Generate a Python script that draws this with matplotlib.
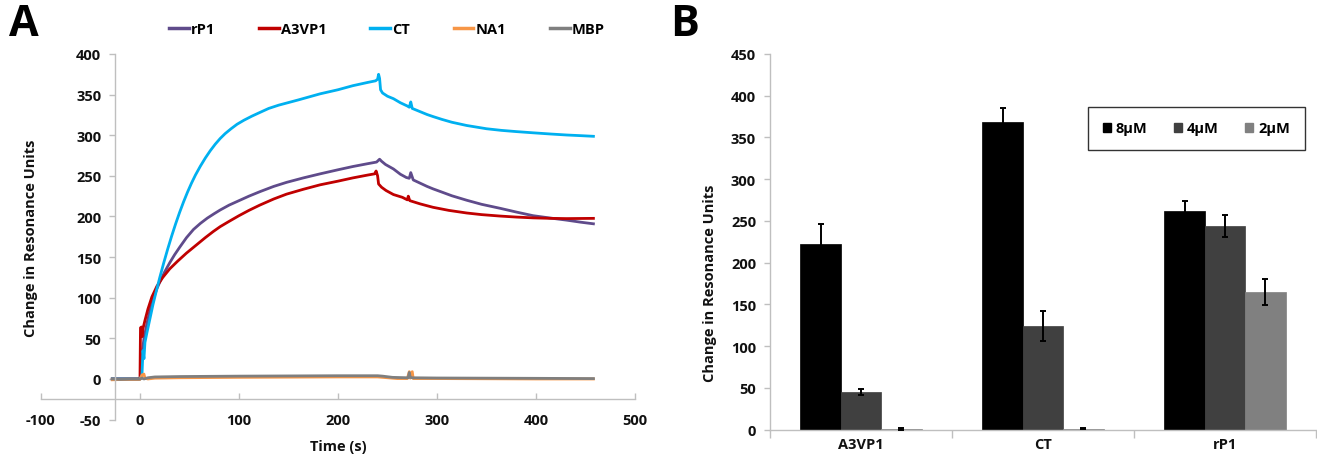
import matplotlib
matplotlib.use("Agg")
import matplotlib.pyplot as plt
from matplotlib.lines import Line2D
from matplotlib.patches import Patch
import numpy as np

plt.rcParams["font.family"] = ["Open Sans", "DejaVu Sans"]
plt.rcParams["font.weight"] = "bold"
plt.rcParams["axes.unicode_minus"] = False

# ---------------- Panel A: sensorgrams ----------------
series_names = ["rP1", "A3VP1", "CT", "NA1", "MBP"]
series_colors = ["#5F4B8B", "#C00000", "#00B0F0", "#F79646", "#7F7F7F"]

ct_t = [-28, -10, 0, 2, 3, 4, 5, 7, 10, 13, 16, 20, 24, 28, 32, 36, 40, 44, 48,
        52, 56, 61, 66, 71, 76, 81, 86, 92, 98, 105, 113, 121, 130, 140, 160,
        182, 200, 215, 230, 238, 240, 241, 242, 243, 245, 250, 256, 263, 270,
        272, 273.5, 275, 283, 290, 296, 305, 315, 330, 350, 365, 380, 397, 415,
        431, 445, 458]
ct_v = [0, 0, 0, 5, 35, 25, 45, 57, 74, 91, 106, 125, 143, 160, 176, 191, 205,
        218, 230, 241, 251, 262, 272, 281, 289, 296, 302, 308, 313.5, 318.5,
        323.5, 328, 333, 337, 343.5, 351, 356, 361, 365, 367, 369, 375, 370,
        356, 352, 348, 345, 340, 336, 334.5, 341, 333, 329, 325.5, 323, 319.5,
        316, 312, 308, 306, 304.5, 303, 301.5, 300.3, 299.5, 298.7]

rp1_t = [-28, -10, 0, 1, 2, 4, 7, 10, 13, 17, 21, 25, 30, 35, 40, 47, 54, 61,
         68, 75, 81, 90, 100, 110, 121, 135, 148, 165, 182, 200, 215, 230, 239,
         242, 244, 248, 256, 263, 269, 272, 273.5, 276, 283, 290, 296, 305, 315,
         330, 345, 364, 380, 397, 415, 431, 445, 458]
rp1_v = [0, 0, 0, 2, 30, 50, 68, 84, 97, 111, 122, 132, 143, 153, 162, 174,
         184, 191.5, 198, 203.5, 208, 214, 219.5, 225, 230.5, 237, 242, 247.5,
         252.5, 257.5, 261.5, 265, 267, 270.5, 268, 264, 258.5, 252, 248, 247,
         254, 245, 241, 237, 234, 230, 225.5, 220, 215, 210, 205.5, 201, 198,
         195.5, 193, 191]

a3_t = [-28, -10, -1, 0, 0.5, 1.5, 2, 3, 5, 8, 12, 17, 23, 30, 38, 47, 57, 66,
        74, 81, 90, 100, 110, 121, 135, 148, 165, 182, 200, 215, 230, 237,
        238.5, 240, 241, 244, 248.5, 256, 265, 270, 271, 272.5, 283, 296, 312,
        330, 345, 364, 380, 397, 415, 431, 458]
a3_v = [0, 0, 0, 2, 63, 64, 52, 62, 72, 86, 101, 114, 125, 135.5, 145, 155,
        165, 174, 181.5, 187.5, 194, 201, 207.5, 214, 221.5, 227.5, 233.5, 239,
        243.5, 247.5, 251, 252.5, 256, 250, 240, 236, 232, 227, 223.6, 220.5,
        225, 219.5, 215.5, 211.3, 207.5, 204.3, 202.3, 200.5, 199.3, 198.3,
        197.7, 197.4, 197.7]

na1_t = [-28, -15, 0, 2, 4, 5, 8, 15, 40, 100, 200, 240, 250, 260, 270, 272,
         273, 275, 276, 300, 400, 458]
na1_v = [-1, -0.5, -0.5, 5, 6, 1, 0, 1, 1.5, 2, 2.5, 2.5, 1.5, 0.5, 0.5, 9, 1,
         9, 0.5, 0.5, 0, 0]

mbp_t = [-28, -20, -10, 0, 2, 4, 8, 15, 40, 100, 200, 240, 245, 255, 270, 271,
         272, 273, 275, 300, 400, 458]
mbp_v = [0, -0.5, 0, 0, 1, 0, 1.5, 2.5, 3, 3.5, 4, 4, 3.5, 2, 1.5, 1.5, 8, 2,
         1.5, 1.2, 0.8, 0.5]

series_t = [rp1_t, a3_t, ct_t, na1_t, mbp_t]
series_v = [rp1_v, a3_v, ct_v, na1_v, mbp_v]

# ---------------- Panel B: bar summary ----------------
proteins = ["A3VP1", "CT", "rP1"]
conc_labels = ["8\u00b5M", "4\u00b5M", "2\u00b5M"]
conc_colors = ["#000000", "#404040", "#808080"]
ru_8 = [222, 369, 262]
ru_4 = [45, 124, 244]
ru_2 = [1, 1, 165]
err_8 = [24, 16, 12]
err_4 = [3.5, 18, 13]
err_2 = [0.8, 0.6, 16]

W, H = 1317, 460
fig = plt.figure(figsize=(W / 100, H / 100), dpi=100)

axis_grey = "#BFBFBF"
txt = "#111111"
fs = 10.5

# Panel A axes
ax = fig.add_axes([41 / W, (H - 420.6) / H, (635 - 41) / W, (420.6 - 55) / H])
for name, col, t, v in zip(series_names, series_colors, series_t, series_v):
    ax.plot(t, v, color=col, lw=2.0, solid_joinstyle="round", label=name)
ax.set_xlim(-100, 500)
ax.set_ylim(-50, 400)
ax.set_xticks(np.arange(-100, 501, 100))
ax.set_yticks(np.arange(-50, 401, 50))
for s in ["top", "right"]:
    ax.spines[s].set_visible(False)
ax.spines["left"].set_position(("data", -25))
ax.spines["bottom"].set_position(("data", -25))
for s in ["left", "bottom"]:
    ax.spines[s].set_color(axis_grey)
    ax.spines[s].set_linewidth(1.0)
ax.tick_params(axis="both", colors=axis_grey, labelcolor=txt, labelsize=fs,
               length=4, width=1.0)
ax.tick_params(axis="x", direction="in", pad=10)
ax.tick_params(axis="y", direction="out", pad=6)
fig.text(31 / W, 1 - 238 / H, "Change in Resonance Units", rotation=90,
         ha="center", va="center", fontsize=fs, color=txt)
fig.text(338 / W, 1 - 447 / H, "Time (s)", ha="center", va="center",
         fontsize=fs, color=txt)

handles = [Line2D([0], [0], color=c, lw=2.5) for c in series_colors]
fig.legend(handles, series_names, loc="center", bbox_to_anchor=(387 / W, 1 - 30 / H),
           ncol=5, frameon=False, fontsize=fs, handlelength=1.35,
           handletextpad=0.15, columnspacing=3.0)

# Panel B axes
bx = fig.add_axes([770 / W, (H - 430.7) / H, (1316 - 770) / W, (430.7 - 55) / H])
x = np.arange(len(proteins))
w = 2 / 9
for k, (vals, errs, col) in enumerate(zip([ru_8, ru_4, ru_2], [err_8, err_4, err_2], conc_colors)):
    xs = x + (k - 1) * w
    bx.bar(xs, vals, width=w, color=col, edgecolor=col, linewidth=0.5, zorder=2)
    bx.errorbar(xs, vals, yerr=errs, fmt="none", ecolor="black", elinewidth=1.4,
                capsize=2.5, capthick=1.4, zorder=3)
bx.set_xlim(-0.5, 2.5)
bx.set_ylim(0, 450)
bx.set_yticks(np.arange(0, 451, 50))
bx.set_xticks(x)
bx.set_xticklabels(proteins)
bx.set_xticks([-0.5, 0.5, 1.5, 2.5], minor=True)
for s in ["top", "right"]:
    bx.spines[s].set_visible(False)
for s in ["left", "bottom"]:
    bx.spines[s].set_color(axis_grey)
    bx.spines[s].set_linewidth(1.0)
bx.tick_params(axis="x", which="major", length=0, pad=5, labelsize=fs, labelcolor=txt)
bx.tick_params(axis="x", which="minor", length=6, width=1.0, color=axis_grey)
bx.tick_params(axis="y", length=4, width=1.0, color=axis_grey, labelsize=fs,
               labelcolor=txt, pad=6)
fig.text(710 / W, 1 - 283 / H, "Change in Resonance Units", rotation=90,
         ha="center", va="center", fontsize=fs, color=txt)

leg_handles = [Patch(facecolor=c, edgecolor=c) for c in conc_colors]
legB = fig.legend(leg_handles, conc_labels, loc="center",
                  bbox_to_anchor=(1196.5 / W, 1 - 129.5 / H), ncol=3,
                  frameon=True, fancybox=False, fontsize=fs, handlelength=0.55,
                  handleheight=0.55, handletextpad=0.35, columnspacing=1.8,
                  borderpad=1.0)
legB.get_frame().set_edgecolor("black")
legB.get_frame().set_linewidth(1.0)

fig.text(9 / W, 1 - 24 / H, "A", fontsize=31, fontweight="bold", va="center", ha="left")
fig.text(670 / W, 1 - 24 / H, "B", fontsize=31, fontweight="bold", va="center", ha="left")

fig.savefig("out.png", dpi=100)
